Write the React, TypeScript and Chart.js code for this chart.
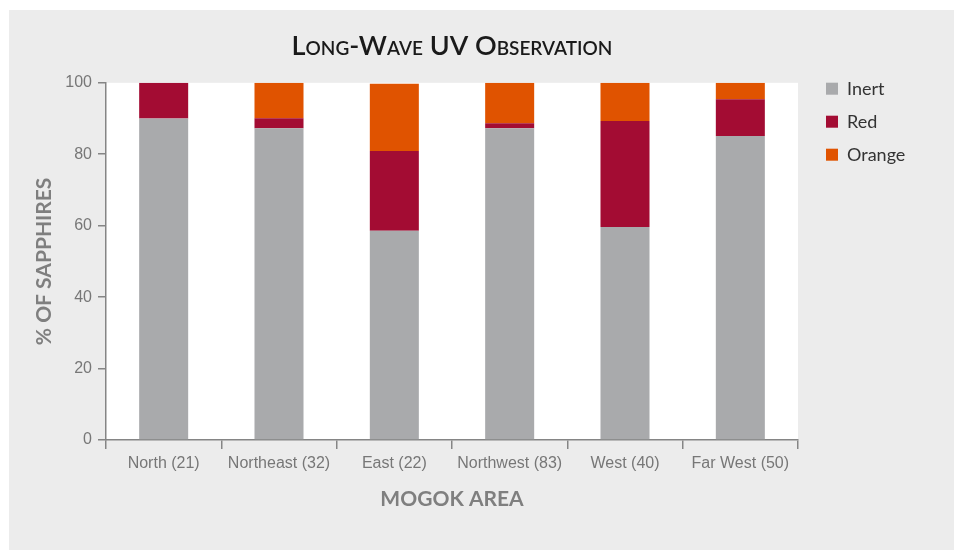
import React, { useEffect, useRef } from "react";
import { Chart, registerables } from "chart.js";

Chart.register(...registerables);

const categories = ["North (21)", "Northeast (32)", "East (22)", "Northwest (83)", "West (40)", "Far West (50)"];
const inertValues = [90, 87.3, 58.6, 87.3, 59.6, 85.1];
const redValues = [10, 2.8, 22.3, 1.4, 29.7, 10.3];
const orangeValues = [0, 9.9, 18.8, 11.3, 10.7, 4.6];
const yTicks = [0, 20, 40, 60, 80, 100];

const AXIS = "#858585";
const TICK_TEXT = "#777777";
const TITLE_GRAY = "#7f7f7f";

const plotBackground = {
  id: "plotBackground",
  beforeDraw(chart: any) {
    const { ctx, chartArea } = chart;
    ctx.save();
    ctx.fillStyle = "#ffffff";
    ctx.fillRect(chartArea.left, chartArea.top, chartArea.right - chartArea.left, chartArea.bottom - chartArea.top);
    ctx.restore();
  },
};

const legendWidthFix = {
  id: "legendWidthFix",
  afterInit(chart: any) {
    const lg = chart.legend;
    if (!lg) return;
    const orig = lg.fit.bind(lg);
    lg.fit = function () {
      orig();
      this.width = 143;
    };
  },
};

export default function App() {
  const ref = useRef<HTMLCanvasElement | null>(null);
  useEffect(() => {
    if (!ref.current) return;
    const chart = new Chart(ref.current, {
      type: "bar",
      data: {
        labels: categories,
        datasets: [
          { label: "Inert", data: inertValues, backgroundColor: "#a9aaac", borderWidth: 0 },
          { label: "Red", data: redValues, backgroundColor: "#a30c33", borderWidth: 0 },
          { label: "Orange", data: orangeValues, backgroundColor: "#e05300", borderWidth: 0 },
        ],
      },
      options: {
        responsive: false,
        animation: false,
        devicePixelRatio: 1,
        layout: { padding: 0 },
        datasets: { bar: { barPercentage: 0.425, categoryPercentage: 1 } },
        plugins: {
          title: {
            display: true,
            text: "Long-Wave UV Observation",
            fullSize: false,
            color: "#1a1a1a",
            font: { family: "Lato", size: 27, weight: "small-caps 600" as any },
            padding: { top: 20, bottom: 20.4 },
          },
          legend: {
            display: true,
            position: "right",
            align: "start",
            title: { display: true, text: " ", font: { size: 10 }, padding: { top: 42.7, bottom: 0 } },
            labels: {
              boxWidth: 12,
              boxHeight: 12,
              padding: 15,
              color: "#333333",
              font: { family: "Lato", size: 18 },
            },
          },
          tooltip: { enabled: false },
        },
        scales: {
          x: {
            stacked: true,
            offset: true,
            grid: { display: true, offset: true, drawOnChartArea: false, drawTicks: true, tickLength: 9, color: AXIS, lineWidth: 1.5 },
            border: { display: true, color: AXIS, width: 1.5 },
            ticks: { color: TICK_TEXT, padding: 5, font: { family: "Liberation Sans", size: 16 } },
            title: {
              display: true,
              text: "MOGOK AREA",
              color: TITLE_GRAY,
              font: { family: "Lato", size: 21, weight: "bold" },
              padding: { top: 0, bottom: 38.5 },
            },
            afterFit(s: any) {
              s.height = 110;
            },
          },
          y: {
            stacked: true,
            min: 0,
            max: 100,
            afterBuildTicks(s: any) {
              s.ticks = yTicks.map((v) => ({ value: v }));
            },
            grid: { display: true, drawOnChartArea: false, drawTicks: true, tickLength: 8, color: AXIS, lineWidth: 1.5 },
            border: { display: true, color: AXIS, width: 1.5 },
            ticks: { color: TICK_TEXT, padding: 6, font: { family: "Liberation Sans", size: 16 } },
            title: {
              display: true,
              text: "% OF SAPPHIRES",
              color: TITLE_GRAY,
              font: { family: "Lato", size: 21, weight: "bold" },
              padding: { top: 22.5, bottom: 0 },
            },
            afterFit(s: any) {
              s.width = 97;
            },
          },
          gap: {
            type: "linear",
            position: "right",
            display: true,
            grid: { display: false },
            border: { display: false },
            ticks: { display: false },
            afterFit(s: any) {
              s.width = 13;
            },
          },
        },
      },
      plugins: [plotBackground, legendWidthFix],
    } as any);
    return () => chart.destroy();
  }, []);

  return (
    <div style={{ position: "absolute", left: 9, top: 10, width: 945, height: 540, background: "#ececec" }}>
      <canvas ref={ref} width={945} height={540} style={{ display: "block" }} />
    </div>
  );
}
